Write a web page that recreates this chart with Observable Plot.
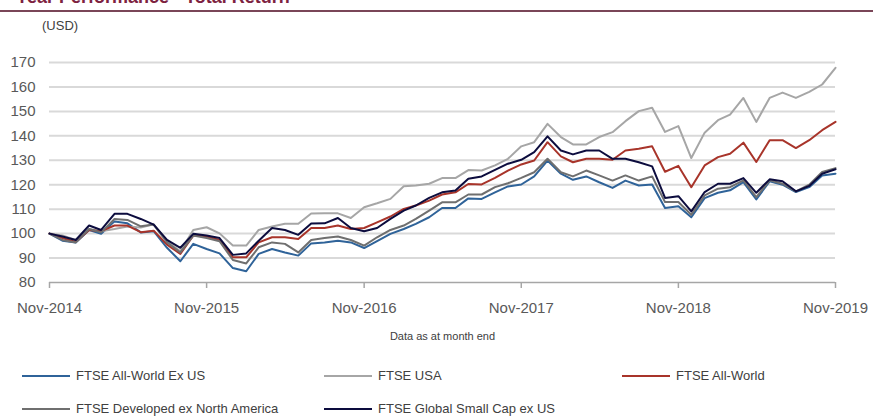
<!DOCTYPE html>
<html><head><meta charset="utf-8">
<script src="https://cdn.jsdelivr.net/npm/d3@7"></script>
<script src="https://cdn.jsdelivr.net/npm/@observablehq/plot@0.6"></script>
<style>
body{margin:0;background:#fff;font-family:"Liberation Sans",Arial,sans-serif;}
#wrap{position:relative;width:873px;height:417px;overflow:hidden;background:#fff;}
#title{position:absolute;left:16px;top:-12px;font-size:18px;line-height:18px;font-weight:bold;color:#7d2240;white-space:nowrap;}
#rule{position:absolute;left:0;top:10px;width:873px;height:2px;background:#7a4658;}
#unit{position:absolute;left:42px;top:18px;font-size:13px;line-height:16px;color:#404040;}
#chart{position:absolute;left:0;top:0;}
#note{position:absolute;left:0;width:885px;text-align:center;top:329px;font-size:11px;line-height:14px;color:#404040;}
.item{position:absolute;font-size:13px;line-height:16px;color:#404040;white-space:nowrap;}
.sw{display:inline-block;width:48px;height:2px;vertical-align:middle;margin-right:6px;position:relative;top:-1px;}
</style></head><body>
<div id="wrap">
  <div id="title">Year Performance - Total Return</div>
  <div id="rule"></div>
  <div id="unit">(USD)</div>
  <div id="chart"></div>
  <div id="note">Data as at month end</div>
  <div id="legend"></div>
</div>
<script>
const seriesNames = ["FTSE All-World Ex US", "FTSE USA", "FTSE All-World", "FTSE Developed ex North America", "FTSE Global Small Cap ex US"];
const seriesColors = ["#2f6399", "#a6a6a6", "#a8342a", "#6f6f6f", "#0c0c3e"];
const yTicks = [80, 90, 100, 110, 120, 130, 140, 150, 160, 170];
const xTickYears = [2014, 2015, 2016, 2017, 2018, 2019];

// monthly values Nov-2014 .. Nov-2019 (61 months), rebased to 100
const allWorldExUS = [100, 97.1, 96.4, 101.5, 99.9, 105, 104.2, 100.5, 101, 94.2, 88.7, 95.8, 93.7, 91.9, 85.9, 84.6, 91.7, 93.7, 92.3, 91, 96, 96.4, 97.1, 96.4, 94.1, 96.9, 99.9, 101.9, 104, 106.7, 110.5, 110.5, 114.4, 114.2, 116.9, 119.3, 120.1, 123.4, 129.9, 124.5, 122, 123.4, 121, 118.7, 121.7, 119.7, 120.1, 110.5, 111.2, 106.7, 114.5, 116.7, 117.7, 121.1, 114, 121.4, 120, 117, 119, 123.8, 124.5];
const usa = [100, 99.2, 97.4, 101.9, 101, 101.9, 102.9, 102.5, 103.8, 96.9, 92.8, 101.5, 102.6, 100.1, 95.1, 95.1, 101.5, 102.9, 104, 104, 108.2, 108.3, 108.3, 106.4, 110.8, 112.4, 114.2, 119.4, 119.7, 120.4, 122.7, 122.7, 126, 125.8, 127.9, 130.6, 135.7, 137.4, 144.9, 139.5, 136.5, 136.5, 139.5, 141.5, 146, 150.1, 151.5, 141.6, 144, 130.9, 141.3, 146.4, 148.7, 155.5, 145.7, 155.5, 157.7, 155.5, 158, 161, 167.8];
const allWorld = [100, 98.2, 96.6, 101.5, 101, 103.3, 103.3, 100.6, 101.2, 95.5, 91.7, 99.2, 98.8, 97.4, 90.3, 90.3, 96.4, 98.5, 98.5, 97.8, 102.3, 102.3, 103.3, 101.9, 102.3, 104.6, 107, 110.1, 111.5, 113.5, 116, 116.9, 120.3, 120.1, 122.8, 125.8, 128.3, 129.9, 137.4, 131.6, 129.2, 130.6, 130.6, 130.2, 134, 134.7, 135.7, 125.3, 127.7, 119, 127.9, 131.3, 132.7, 137.2, 129.3, 138.2, 138.2, 135, 138.2, 142.3, 145.7];
const developedExNA = [100, 97.4, 96.4, 101.9, 100.5, 106, 105.6, 103, 103.7, 96.4, 92.3, 99.2, 98.2, 96.9, 89.2, 87.8, 94.4, 96.4, 95.8, 92.3, 97.4, 98.2, 98.8, 97.4, 95.1, 98.5, 101.5, 103.3, 106, 109.4, 112.8, 112.8, 116, 116, 119, 120.6, 122.8, 125.1, 130.6, 125.1, 123.4, 125.8, 123.8, 121.7, 123.8, 121.7, 123.4, 112.9, 112.9, 107.7, 115.6, 118.4, 119, 121.8, 114.9, 121.8, 120.4, 117.3, 120, 125.2, 126.8];
const globalSmallCapExUS = [100, 98.8, 97.4, 103.3, 101.5, 108.1, 108.1, 106, 103.7, 97.4, 94.2, 99.9, 99.2, 98.2, 91.3, 91.9, 97.1, 102.3, 101.5, 99.5, 104.1, 104.2, 106.4, 102.3, 101, 102.3, 106, 109.4, 111.5, 114.6, 116.9, 117.6, 122.4, 123.4, 126.1, 128.6, 130.2, 133.3, 139.8, 134, 132.4, 134, 134, 130.6, 130.6, 129.2, 127.5, 114.6, 115.3, 109.1, 117, 120.4, 120.4, 122.7, 116.7, 122.2, 121.4, 117.3, 119.5, 124.5, 126.3];

const seriesValues = [allWorldExUS, usa, allWorld, developedExNA, globalSmallCapExUS];
const months = d3.utcMonth.range(new Date(Date.UTC(2014, 10, 1)), new Date(Date.UTC(2019, 11, 1)));
const xTicks = xTickYears.map(y => new Date(Date.UTC(y, 10, 1)));

const rows = [];
seriesNames.forEach((name, k) => seriesValues[k].forEach((v, i) => rows.push({date: months[i], value: v, series: name})));

const chart = Plot.plot({
  width: 873, height: 345,
  marginLeft: 49, marginRight: 38, marginTop: 62, marginBottom: 63,
  style: {fontFamily: "Liberation Sans, Arial, sans-serif", fontSize: "15px", color: "#595959", background: "transparent"},
  x: {type: "utc", domain: [months[0], months[months.length - 1]]},
  y: {domain: [80, 170]},
  color: {domain: seriesNames, range: seriesColors},
  marks: [
    Plot.ruleY(yTicks.filter(d => d > 80), {stroke: "#d9d9d9", strokeWidth: 2}),
    Plot.axisY(yTicks, {tickSize: 0, tickPadding: 14, label: null, fill: "#595959"}),
    Plot.ruleY([80], {stroke: "#a6a6a6", strokeWidth: 1.5}),
    Plot.axisX(xTicks, {tickSize: 6, tickPadding: 14, stroke: "#a6a6a6", strokeWidth: 1.5, label: null, fill: "#595959", tickFormat: d3.utcFormat("%b-%Y")}),
    Plot.lineY(rows, {x: "date", y: "value", z: "series", stroke: "series", strokeWidth: 2})
  ]
});
document.getElementById("chart").appendChild(chart);

const legendPos = [[22, 368], [324, 368], [622, 368], [22, 401], [324, 401]];
const legend = document.getElementById("legend");
seriesNames.forEach((name, k) => {
  const d = document.createElement("div");
  d.className = "item";
  d.style.left = legendPos[k][0] + "px";
  d.style.top = legendPos[k][1] + "px";
  const sw = document.createElement("span");
  sw.className = "sw";
  sw.style.background = seriesColors[k];
  d.appendChild(sw);
  d.appendChild(document.createTextNode(name));
  legend.appendChild(d);
});
</script>
</body></html>
